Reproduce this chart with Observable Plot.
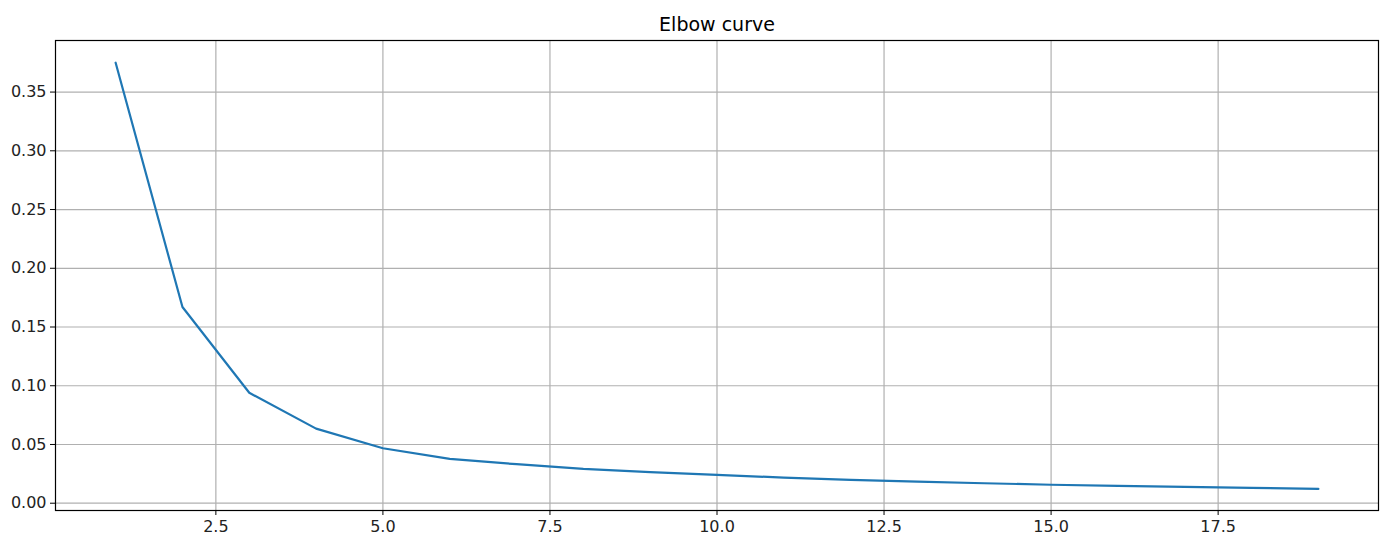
<!DOCTYPE html>
<html>
<head>
<meta charset="utf-8">
<script src="https://cdn.jsdelivr.net/npm/d3@7"></script>
<script src="https://cdn.jsdelivr.net/npm/@observablehq/plot@0.6"></script>
<style>
  html, body { margin: 0; padding: 0; background: #fff; }
  #chart svg { display: block; }
</style>
</head>
<body>
<div id="chart"></div>
<script>
const clusters = [1, 2, 3, 4, 5, 6, 7, 8, 9, 10, 11, 12, 13, 14, 15, 16, 17, 18, 19];
const scores = [0.375, 0.167, 0.094, 0.0635, 0.0468, 0.0377, 0.0332, 0.0292, 0.0265, 0.0241, 0.0218, 0.0199, 0.0184, 0.0170, 0.0157, 0.0148, 0.0139, 0.0131, 0.0122];
const xTicks = [2.5, 5.0, 7.5, 10.0, 12.5, 15.0, 17.5];
const yTicks = [0.00, 0.05, 0.10, 0.15, 0.20, 0.25, 0.30, 0.35];
const title = "Elbow curve";

const data = clusters.map((k, i) => ({k, v: scores[i]}));

const chart = Plot.plot({
  width: 1385,
  height: 538,
  marginLeft: 55,
  marginRight: 7,
  marginTop: 40,
  marginBottom: 28,
  style: {fontFamily: "DejaVu Sans", fontSize: "16px", color: "#000", background: "#fff"},
  x: {domain: [0.1, 19.9], label: null},
  y: {domain: [-0.0062, 0.3939], label: null},
  marks: [
    Plot.gridX(xTicks, {stroke: "#b0b0b0", strokeOpacity: 1, strokeWidth: 1.2}),
    Plot.gridY(yTicks, {stroke: "#b0b0b0", strokeOpacity: 1, strokeWidth: 1.2}),
    Plot.axisX(xTicks, {tickFormat: d3.format(".1f"), tickSize: 5, tickPadding: 5, stroke: "#000", fill: "#222", fontSize: 16}),
    Plot.axisY(yTicks, {tickFormat: d3.format(".2f"), tickSize: 5, tickPadding: 4, stroke: "#000", fill: "#222", fontSize: 16}),
    Plot.line(data, {x: "k", y: "v", stroke: "#1f77b4", strokeWidth: 2.2}),
    Plot.frame({stroke: "#000", strokeWidth: 1.2}),
    Plot.text([title], {frameAnchor: "top", dy: -16, text: d => d, fontSize: 19, fill: "#000", lineAnchor: "middle"})
  ]
});
document.getElementById("chart").append(chart);
</script>
</body>
</html>
